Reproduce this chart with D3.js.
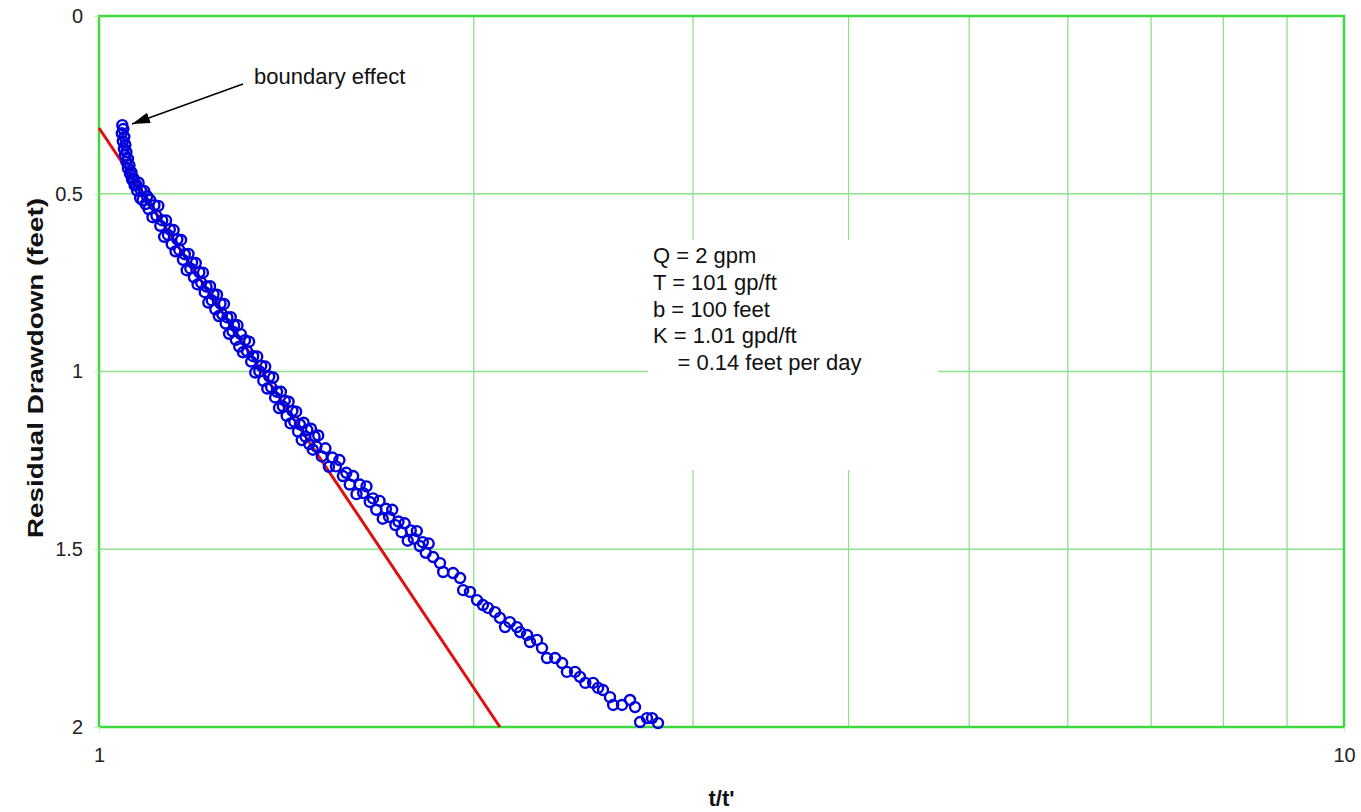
<!DOCTYPE html>
<html>
<head>
    <meta charset="utf-8">
    <style>
        body { margin: 0; background: #fff; }
        svg { display: block; font-family: "Liberation Sans", Arial, sans-serif; }
    </style>
</head>
<body>
<script src="https://cdn.jsdelivr.net/npm/d3@7"></script>
<script>
    // t/t' values of the recovery readings
    var tRatio = [
        1.044, 1.046, 1.043, 1.048, 1.045, 1.050, 1.047, 1.052, 1.049, 1.055,
        1.052, 1.058, 1.055, 1.062, 1.059, 1.066, 1.063, 1.071, 1.068, 1.076,
        1.073, 1.081, 1.079, 1.087, 1.084, 1.093, 1.090, 1.099, 1.096,
        1.104, 1.108, 1.112, 1.116, 1.120, 1.124, 1.128, 1.132, 1.136, 1.140,
        1.144, 1.148, 1.152, 1.156, 1.160, 1.164, 1.168, 1.172, 1.176, 1.180,
        1.184, 1.188, 1.192, 1.196, 1.200, 1.204, 1.208, 1.212, 1.216, 1.220,
        1.224, 1.228, 1.232, 1.236, 1.240, 1.244, 1.248, 1.252, 1.256, 1.260,
        1.264, 1.268, 1.272, 1.276, 1.280, 1.284, 1.288, 1.292, 1.296, 1.300,
        1.305, 1.310, 1.315, 1.320, 1.325, 1.330, 1.335, 1.340, 1.345, 1.350,
        1.355, 1.360, 1.365, 1.370, 1.375, 1.380, 1.385, 1.390, 1.395, 1.400,
        1.405, 1.410, 1.415, 1.420, 1.425, 1.430, 1.435, 1.440, 1.445, 1.450,
        1.455, 1.460, 1.465, 1.470, 1.475, 1.480, 1.485, 1.490, 1.495, 1.500,
        1.51, 1.52, 1.53, 1.54, 1.55, 1.56, 1.57, 1.58, 1.59, 1.60,
        1.61, 1.62, 1.63, 1.64, 1.65, 1.66, 1.67, 1.68, 1.69, 1.70,
        1.71, 1.72, 1.73, 1.74, 1.75, 1.76, 1.77, 1.78, 1.79, 1.80,
        1.81, 1.82, 1.83, 1.84,
        1.855, 1.879, 1.890, 1.925, 1.950, 1.961, 1.986, 2.012, 2.034, 2.053,
        2.080, 2.099, 2.119, 2.138, 2.166, 2.179, 2.207, 2.219, 2.248, 2.269,
        2.290, 2.325, 2.355, 2.376, 2.412, 2.434, 2.458, 2.494, 2.517, 2.540,
        2.573, 2.588, 2.631, 2.670, 2.695, 2.720, 2.755, 2.781, 2.812
    ];
    // residual drawdown (feet)
    var drawdown = [
        0.307, 0.318, 0.330, 0.340, 0.352, 0.362, 0.373, 0.383, 0.392, 0.402,
        0.410, 0.420, 0.428, 0.440, 0.444, 0.457, 0.460, 0.474, 0.476, 0.469,
        0.491, 0.492, 0.512, 0.492, 0.518, 0.507, 0.529, 0.517, 0.543,
        0.566, 0.532, 0.562, 0.534, 0.590, 0.575, 0.621, 0.575, 0.616, 0.600,
        0.642, 0.602, 0.662, 0.628, 0.658, 0.630, 0.686, 0.670, 0.715, 0.669,
        0.710, 0.693, 0.735, 0.695, 0.755, 0.721, 0.750, 0.722, 0.777, 0.761,
        0.806, 0.760, 0.800, 0.783, 0.825, 0.784, 0.844, 0.809, 0.839, 0.810,
        0.865, 0.848, 0.894, 0.847, 0.887, 0.870, 0.911, 0.870, 0.930, 0.895,
        0.946, 0.912, 0.943, 0.916, 0.972, 0.957, 1.003, 0.958, 0.999, 0.984,
        1.026, 0.986, 1.048, 1.014, 1.044, 1.017, 1.073, 1.057, 1.103, 1.057,
        1.098, 1.082, 1.125, 1.085, 1.146, 1.111, 1.141, 1.113, 1.169, 1.149,
        1.193, 1.144, 1.183, 1.164, 1.204, 1.161, 1.220, 1.183, 1.211, 1.180,
        1.239, 1.216, 1.268, 1.242, 1.267, 1.249, 1.294, 1.285, 1.318, 1.294,
        1.345, 1.318, 1.342, 1.323, 1.367, 1.357, 1.389, 1.364, 1.414, 1.386,
        1.409, 1.389, 1.432, 1.422, 1.452, 1.427, 1.476, 1.447, 1.470, 1.449,
        1.491, 1.480, 1.510, 1.484,
        1.522, 1.539, 1.564, 1.567, 1.581, 1.615, 1.620, 1.643, 1.657, 1.665,
        1.677, 1.693, 1.719, 1.705, 1.719, 1.733, 1.741, 1.761, 1.755, 1.778,
        1.806, 1.806, 1.820, 1.845, 1.845, 1.859, 1.876, 1.876, 1.890, 1.896,
        1.916, 1.938, 1.938, 1.924, 1.944, 1.986, 1.975, 1.975, 1.989
    ];
    // straight-line fit (Jacob recovery)
    var fitT = [1, 2.099];
    var fitS = [0.315, 2.0];

    var xTicks = [1, 10];
    var xGrid = [2, 3, 4, 5, 6, 7, 8, 9];
    var yGrid = [0.5, 1, 1.5];
    var yTicks = [0, 0.5, 1, 1.5, 2];
    var yTickLabels = ['0', '0.5', '1', '1.5', '2'];
    var params = ['Q = 2 gpm', 'T = 101 gp/ft', 'b = 100 feet', 'K = 1.01 gpd/ft', '    = 0.14 feet per day'];

    var W = 1361, H = 812;
    var pL = 99, pR = 1344, pT = 16, pB = 727;

    var svg = d3.select('body').append('svg')
        .attr('width', W)
        .attr('height', H);

    var x = d3.scaleLog().domain([1, 10]).range([pL, pR]);
    var y = d3.scaleLinear().domain([0, 2]).range([pT, pB]);

    // grid
    svg.append('g').selectAll('line').data(xGrid).enter().append('line')
        .attr('x1', d => x(d)).attr('x2', d => x(d))
        .attr('y1', pT).attr('y2', pB)
        .style('stroke', '#8fe08f').style('stroke-width', 1.3);
    svg.append('g').selectAll('line').data(yGrid).enter().append('line')
        .attr('x1', pL).attr('x2', pR)
        .attr('y1', d => y(d)).attr('y2', d => y(d))
        .style('stroke', '#8fe08f').style('stroke-width', 1.3);

    // white box behind the parameters
    svg.append('rect')
        .attr('x', 648).attr('y', 240)
        .attr('width', 290).attr('height', 230)
        .style('fill', '#fff');

    // plot border
    svg.append('rect')
        .attr('x', pL).attr('y', pT)
        .attr('width', pR - pL).attr('height', pB - pT)
        .style('fill', 'none').style('stroke', '#3fd83f').style('stroke-width', 2.5);

    // axes
    var yAxis = d3.axisLeft(y).tickValues(yTicks)
        .tickFormat((d, i) => yTickLabels[i]).tickSize(5).tickPadding(11);
    var gy = svg.append('g').attr('transform', 'translate(' + pL + ',0)').call(yAxis);
    var xAxis = d3.axisBottom(x).tickValues(xTicks)
        .tickFormat(d3.format('d')).tickSize(5).tickPadding(16);
    var gx = svg.append('g').attr('transform', 'translate(0,' + pB + ')').call(xAxis);
    [gx, gy].forEach(function (g) {
        g.select('.domain').remove();
        g.selectAll('.tick line').style('stroke', '#c8eec8');
        g.selectAll('.tick text').style('font-size', '20px').style('fill', '#222')
            .style('font-family', '"Liberation Sans", Arial, sans-serif');
    });

    // fitted line
    var line = d3.line().x(d => x(d[0])).y(d => y(d[1]));
    svg.append('path')
        .datum(d3.zip(fitT, fitS))
        .attr('d', line)
        .style('fill', 'none').style('stroke', '#e01010').style('stroke-width', 3);

    // data points
    svg.append('g').selectAll('circle').data(d3.zip(tRatio, drawdown)).enter().append('circle')
        .attr('cx', d => x(d[0])).attr('cy', d => y(d[1])).attr('r', 5)
        .style('fill', 'none').style('stroke', '#0000dd').style('stroke-width', 2.4);

    // parameter text
    svg.append('g').selectAll('text').data(params).enter().append('text')
        .attr('x', 653).attr('y', (d, i) => 263 + i * 26.8)
        .attr('xml:space', 'preserve')
        .style('font-size', '22px').style('fill', '#111')
        .text(d => d);

    // boundary effect annotation
    svg.append('defs').append('marker')
        .attr('id', 'arrow').attr('viewBox', '0 0 10 10')
        .attr('refX', 10).attr('refY', 5)
        .attr('markerWidth', 18).attr('markerHeight', 11)
        .attr('markerUnits', 'userSpaceOnUse').attr('orient', 'auto')
        .attr('preserveAspectRatio', 'none')
        .append('path').attr('d', 'M0,0 L10,5 L0,10 z').style('fill', '#000');
    svg.append('line')
        .attr('x1', 243).attr('y1', 84).attr('x2', 132).attr('y2', 124)
        .style('stroke', '#000').style('stroke-width', 1.4)
        .attr('marker-end', 'url(#arrow)');
    svg.append('text').attr('x', 254).attr('y', 84)
        .style('font-size', '22px').style('fill', '#111')
        .text('boundary effect');

    // axis titles
    svg.append('text')
        .attr('transform', 'translate(43,368) rotate(-90)')
        .attr('text-anchor', 'middle')
        .attr('textLength', 340).attr('lengthAdjust', 'spacingAndGlyphs')
        .style('font-size', '22px').style('font-weight', 'bold').style('fill', '#111')
        .text('Residual Drawdown (feet)');
    svg.append('text')
        .attr('x', (pL + pR) / 2).attr('y', 806)
        .attr('text-anchor', 'middle')
        .style('font-size', '22px').style('font-weight', 'bold').style('fill', '#111')
        .text("t/t'");
</script>
</body>
</html>
